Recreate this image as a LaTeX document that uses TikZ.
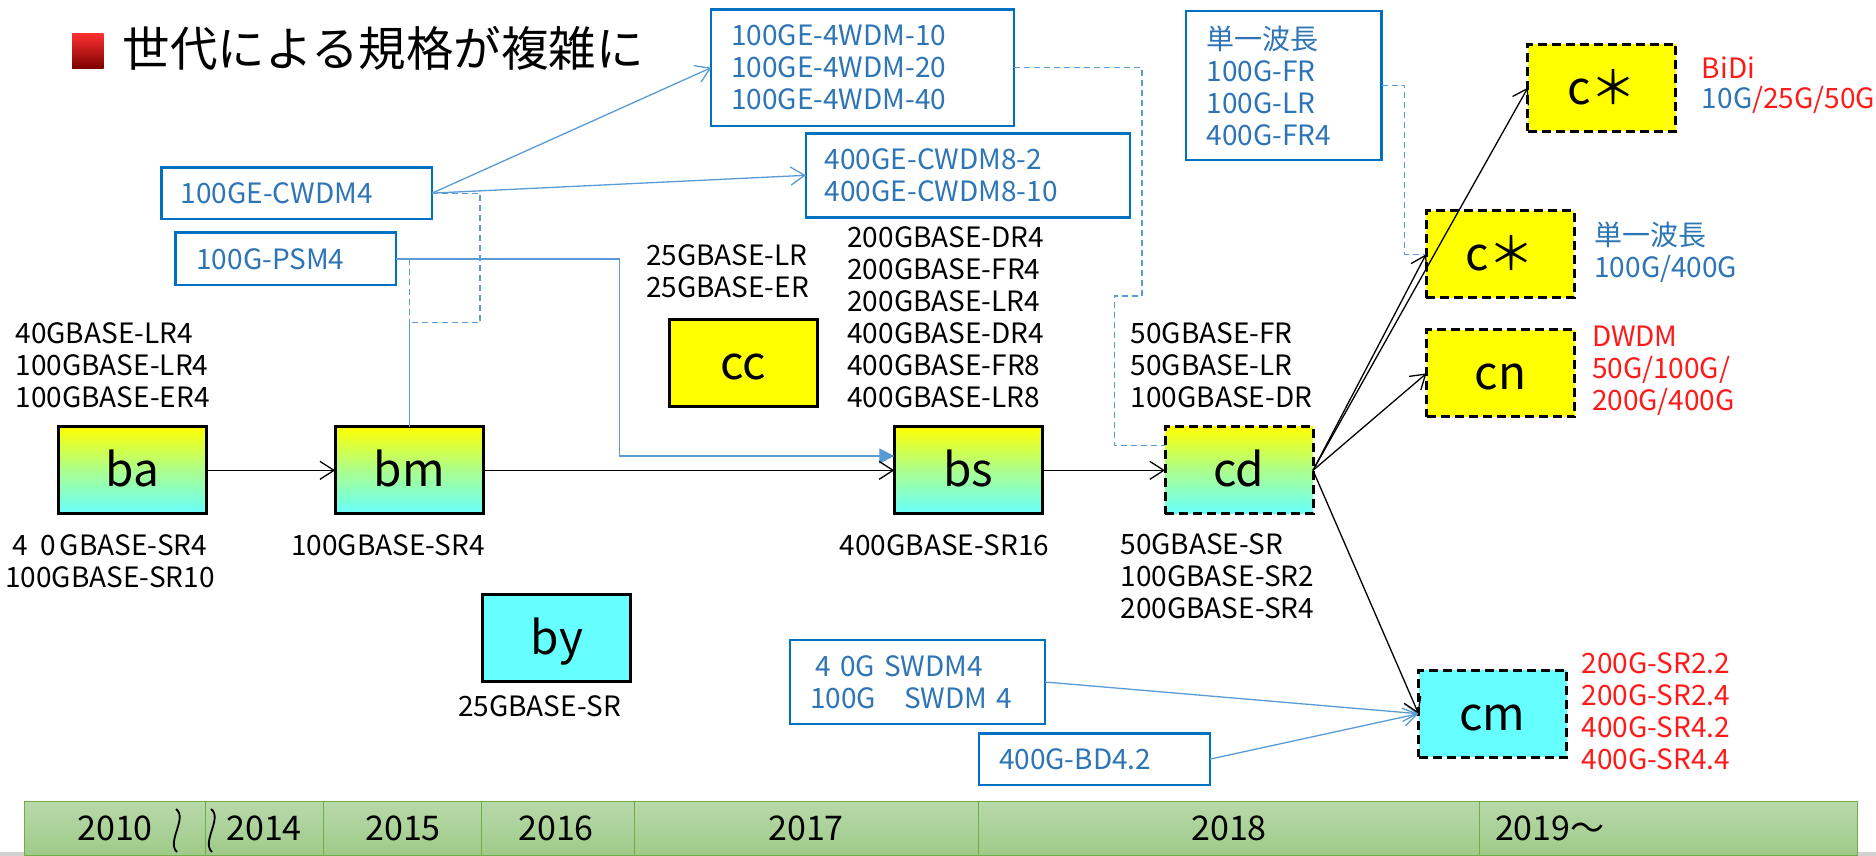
\documentclass[tikz,border=0pt]{standalone}
\usepackage{fontspec}
\setmainfont{Noto Sans CJK JP}
\usetikzlibrary{arrows.meta}
\definecolor{boxblue}{HTML}{0070C0}
\definecolor{txtblue}{HTML}{2E75B6}
\definecolor{lineblue}{HTML}{5B9BD5}
\definecolor{yel}{HTML}{FFFF00}
\definecolor{cya}{HTML}{66FFFF}
\definecolor{redtxt}{HTML}{FF1A1A}
\definecolor{bargreenA}{HTML}{B8D9AA}
\definecolor{bargreenB}{HTML}{9ECA88}
\definecolor{barline}{HTML}{70AD47}
\definecolor{sqtop}{HTML}{FF3030}
\definecolor{sqbot}{HTML}{7A0000}
\begin{document}
\begin{tikzpicture}[x=1pt,y=-1pt,
  every node/.style={inner sep=0pt, outer sep=0pt},
  lbl/.style={font=\fontsize{28}{32}\selectfont, align=left, anchor=west},
  clbl/.style={font=\fontsize{28}{32}\selectfont, align=center, anchor=center},
  bbox/.style={draw=boxblue, line width=2.5pt, text=txtblue, font=\fontsize{28}{32}\selectfont, align=left, anchor=center},
  big/.style={minimum width=148pt, minimum height=87pt, font=\fontsize{46}{50}\selectfont, anchor=center, text height=33pt, text depth=0pt},
  gradbox/.style={big, draw=black, line width=3pt, top color=yel, bottom color=cya, middle color=yel!45!cya},
  yelbox/.style={big, draw=black, line width=3pt, fill=yel},
  cyabox/.style={big, draw=black, line width=3pt, fill=cya},
  dashbox/.style={dash pattern=on 9pt off 5pt},
  blk/.style={draw=black, line width=1.3pt, -{Straight Barb[length=14pt,width=18pt,line width=1.3pt]}},
  blu/.style={draw=lineblue, line width=1.3pt},
  bluarr/.style={blu, -{Straight Barb[length=14pt,width=18pt,line width=1.3pt]}},
  bdash/.style={draw=lineblue, line width=1.3pt, dash pattern=on 6pt off 4pt},
  yr/.style={font=\fontsize{34}{40}\selectfont, anchor=center}
]
\useasboundingbox (0,0) rectangle (1876,856);
\fill[white] (0,0) rectangle (1876,856);

% title
\shade[top color=sqtop, bottom color=sqbot] (72,33.3) rectangle (103.6,69);
\node[anchor=west, font=\fontsize{47.5}{50}\selectfont] (title) at (122.8,48.5) {世代による規格が複雑に};

% blue boxes
\node[bbox, minimum width=270.5pt, minimum height=51.7pt, text width=232pt, inner xsep=19.2pt] (cwdm4) at (296.85,193.15) {100GE-CWDM4};
\node[bbox, minimum width=220.6pt, minimum height=52.3pt, text width=178.6pt, inner xsep=21pt] (psm4) at (285.7,258.85) {100G-PSM4};
\node[bbox, minimum width=302.75pt, minimum height=116.7pt, text width=262.75pt, inner xsep=20pt] (wdm4) at (862.6,67.65) {100GE-4WDM-10\\100GE-4WDM-20\\100GE-4WDM-40};
\node[bbox, minimum width=324.1pt, minimum height=84pt, text width=286.1pt, inner xsep=19pt] (cwdm8) at (967.95,175.3) {400GE-CWDM8-2\\400GE-CWDM8-10};
\node[bbox, minimum width=195.5pt, minimum height=149pt, text width=154.5pt, inner xsep=20.5pt] (single) at (1283.75,85.5) {単一波長\\100G-FR\\100G-LR\\400G-FR4};
\node[bbox, minimum width=254.8pt, minimum height=84pt, text width=214.8pt, inner xsep=19pt] (swdm) at (917.6,682) {\hspace{5pt}4 0G SWDM4\\100G　SWDM 4};
\node[bbox, minimum width=230.8pt, minimum height=51.7pt, text width=190.8pt, inner xsep=20pt] (bd) at (1094.4,759.15) {400G-BD4.2};

% main boxes
\node[gradbox] (ba) at (132.15,470.35) {ba};
\node[gradbox] (bm) at (409.15,470.35) {bm};
\node[gradbox] (bs) at (968.3,470.35) {bs};
\node[gradbox, dashbox] (cd) at (1239,470.35) {cd};
\node[cyabox] (by) at (556.9,638.35) {by};
\node[yelbox] (cc) at (743,362.5) {cc};
\node[yelbox, dashbox] (cs1) at (1601.85,87.65) {c＊};
\node[yelbox, dashbox] (cs2) at (1500,254.35) {c＊};
\node[yelbox, dashbox] (cn) at (1500.5,373.35) {cn};
\node[cyabox, dashbox] (cm) at (1492.5,713.7) {cm};

% black labels
\node[lbl] (l1) at (15.6,365.7) {40GBASE-LR4\\100GBASE-LR4\\100GBASE-ER4};
\node[clbl] (l2) at (110,561) {4\hspace{12pt}0\hspace{4pt}GBASE-SR4\\100GBASE-SR10};
\node[clbl] (l3) at (388,545) {100GBASE-SR4};
\node[clbl] (l4) at (539.5,706.7) {25GBASE-SR};
\node[lbl] (l5) at (646,271.7) {25GBASE-LR\\25GBASE-ER};
\node[lbl] (l6) at (847.4,317) {200GBASE-DR4\\200GBASE-FR4\\200GBASE-LR4\\400GBASE-DR4\\400GBASE-FR8\\400GBASE-LR8};
\node[clbl] (l7) at (944.5,545) {400GBASE-SR16};
\node[lbl] (l8) at (1130.8,365.7) {50GBASE-FR\\50GBASE-LR\\100GBASE-DR};
\node[lbl] (l9) at (1120.5,576.7) {50GBASE-SR\\100GBASE-SR2\\200GBASE-SR4};

% right labels
\node[lbl, font=\fontsize{28}{30}\selectfont] (r1) at (1701.9,85) {\textcolor{redtxt}{BiDi}\\\textcolor{txtblue}{10G}\textcolor{redtxt}{/25G/50G}};
\node[lbl, text=txtblue] (r2) at (1594.4,252.5) {単一波長\\100G/400G};
\node[lbl, text=redtxt] (r3) at (1592,371) {DWDM\\50G/100G/\\200G/400G};
\node[lbl, text=redtxt] (r4) at (1581.7,711.4) {200G-SR2.2\\200G-SR2.4\\400G-SR4.2\\400G-SR4.4};

% blue connectors
\coordinate (j1) at (409.15,322.7);
\coordinate (p1) at (619.2,456);
\coordinate (d1) at (1142,296);
\coordinate (d2) at (1114.3,445.7);
\coordinate (s1) at (1404.6,254.35);
\draw[bluarr] (cwdm4.east) -- (wdm4.west);
\draw[bluarr] (cwdm4.east) -- (cwdm8.west);
\draw[bdash] (cwdm4.east) -- ++(48,0) |- (j1);
\draw[bdash] (psm4.east -| j1) -- (j1);
\draw[blu] (j1) -- (bm.north);
\draw[blu, -{Triangle[length=15pt,width=15pt,fill=lineblue]}] (psm4.east) -| (p1) -- (bs.west |- p1);
\draw[bdash] (wdm4.east) -| (d1) -- (d1 -| d2) -- (d2) -- (cd.west |- d2);
\draw[bdash] (single.east) -| (s1) -- (cs2.west);
\draw[bluarr] (swdm.east) -- (cm.west);
\draw[bluarr] (bd.east) -- (cm.west);

% black connectors
\draw[blk] (ba.east) -- (bm.west);
\draw[blk] (bm.east) -- (bs.west);
\draw[blk] (bs.east) -- (cd.west);
\draw[blk] (cd.east) -- (cs1.west);
\draw[blk] (cd.east) -- (cs2.west);
\draw[blk] (cd.east) -- (cn.west);
\draw[blk] (cd.east) -- (cm.west);

% timeline bar
\fill[black!18] (0,851.5) rectangle (1876,856);
\shade[top color=bargreenA, bottom color=bargreenB, draw=barline, line width=1pt] (24,801.7) rectangle (1857.7,855.5);
\foreach \xx in {205.7,323,481,634,978.5,1479.7}
  \draw[barline, line width=1pt] (\xx,801.7) -- (\xx,855.5);
\node[yr] (y2010) at (115,828) {2010};
\draw[black, line width=1.8pt] (176,809) .. controls (188,818) and (166,842) .. (177,852);
\draw[black, line width=1.8pt] (211,809) .. controls (223,818) and (201,842) .. (212,852);
\node[yr] (y2014) at (264,828) {2014};
\node[yr] (y2015) at (403,828) {2015};
\node[yr] (y2016) at (556,828) {2016};
\node[yr] (y2017) at (806,828) {2017};
\node[yr] (y2018) at (1229,828) {2018};
\node[yr, anchor=west] (y2019) at (1495,828) {2019～};
\end{tikzpicture}
\end{document}
